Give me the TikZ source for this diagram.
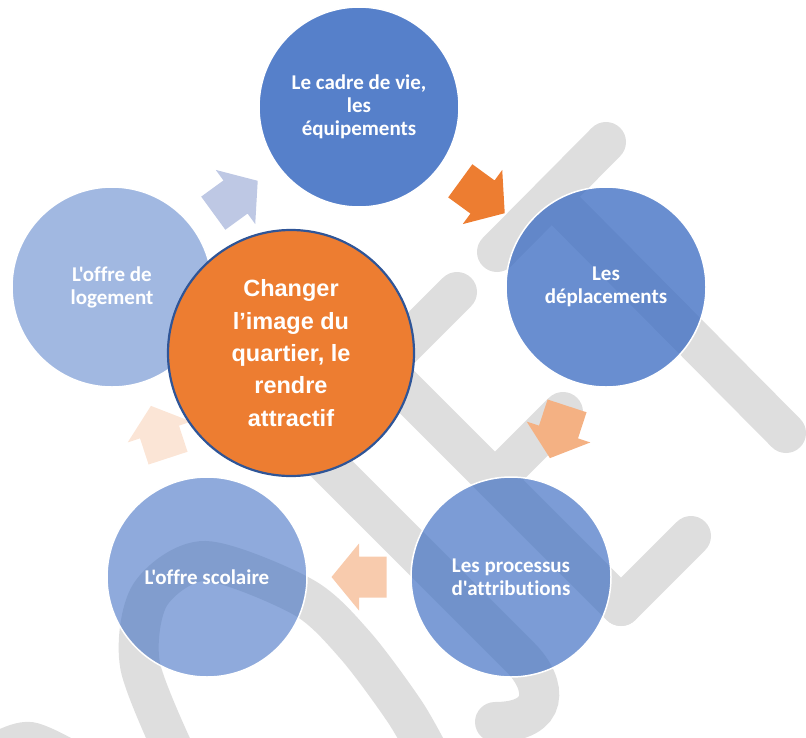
\documentclass[tikz,border=0pt]{standalone}
\usepackage{fontspec}
\newfontfamily\labfont{Carlito}[Ligatures=CommonOff]
\newfontfamily\corefont{Liberation Sans}
\usetikzlibrary{calc}

\definecolor{accent}{HTML}{4472C4}
\definecolor{orangeacc}{HTML}{ED7D31}
\definecolor{rim}{HTML}{2F5597}
\definecolor{mark}{RGB}{222,222,222}
\definecolor{arrA}{HTML}{BEC8E4}
\definecolor{arrB}{HTML}{ED7D31}
\definecolor{arrC}{HTML}{F4B183}
\definecolor{arrD}{HTML}{F8CBAD}
\definecolor{arrE}{HTML}{FBE5D6}

% block arrow halfway between two nodes, pointing from #1 to #2
\newcommand\cyclearrow[3]{%
  \fill[#3] let \p1=($(#2)-(#1)$), \n1={atan2(\y1,\x1)}, \p2=($(#1)!0.5!(#2)$) in
    ($(\p2)+(\n1+180:27.5pt)+(\n1+90:20.5pt)$) --
    ($(\p2)+(\n1+90:20.5pt)$) --
    ($(\p2)+(\n1+90:33.5pt)$) --
    ($(\p2)+(\n1:27.5pt)$) --
    ($(\p2)+(\n1-90:33.5pt)$) --
    ($(\p2)+(\n1-90:20.5pt)$) --
    ($(\p2)+(\n1+180:27.5pt)+(\n1-90:20.5pt)$) -- cycle;}

\begin{document}
\begin{tikzpicture}[x=1pt,y=-1pt,
  stage/.style={circle, minimum size=200pt, inner sep=0pt, fill=accent,
    draw=white, line width=1.5pt, text=white, align=center,
    font=\labfont\bfseries\fontsize{21}{23}\selectfont},
  core/.style={circle, minimum size=246pt, inner sep=0pt, fill=orangeacc,
    draw=rim, line width=2.2pt, text=white, align=center,
    font=\corefont\bfseries\fontsize{23.5}{32.3}\selectfont},
  band/.style={draw=mark, line width=40pt, line cap=round}]

\useasboundingbox (0,0) rectangle (806,737);

% light grey strokes in the background
\begin{scope}
  \clip (0,0) rectangle (806,737);
  \draw[band] (606,142) -- (497,252);
  \draw[band] (557,202) -- (786,433);
  \draw[band] (457,292) -- (380,369);
  \draw[band] (370,355) -- (621,606);
  \draw[band] (495,480) -- (563,412);
  \draw[band] (621,606) -- (691,536);
  \draw[band] (320,457) -- (520,657) .. controls (548,685) and (550,722) .. (495,722);
  \draw[band] plot[smooth] coordinates {(178,760) (140,665) (150,595) (205,561) (303,597) (355,645) (405,712) (432,760)};
  \draw[band] plot[smooth] coordinates {(-15,760) (30,742) (95,775)};
\end{scope}

% the five stages of the cycle
\node[stage, fill opacity=0.9, text opacity=1] (frame) at (359,107) {Le cadre de vie,\\les\\équipements};
\node[stage, fill opacity=0.8, text opacity=1] (moves) at (606,287) {Les\\déplacements};
\node[stage, fill opacity=0.7, text opacity=1] (alloc) at (511,577) {Les processus\\d'attributions};
\node[stage, fill opacity=0.6, text opacity=1] (school) at (207,577) {L'offre scolaire};
\node[stage, fill opacity=0.5, text opacity=1] (housing) at (112,287) {L'offre de\\logement};

% arrows between consecutive stages
\cyclearrow{housing}{frame}{arrA}
\cyclearrow{frame}{moves}{arrB}
\cyclearrow{moves}{alloc}{arrC}
\cyclearrow{alloc}{school}{arrD}
\cyclearrow{school}{housing}{arrE}

% central goal
\node[core] (goal) at (291,353) {Changer\\l’image du\\quartier, le\\rendre\\attractif};
\end{tikzpicture}
\end{document}
